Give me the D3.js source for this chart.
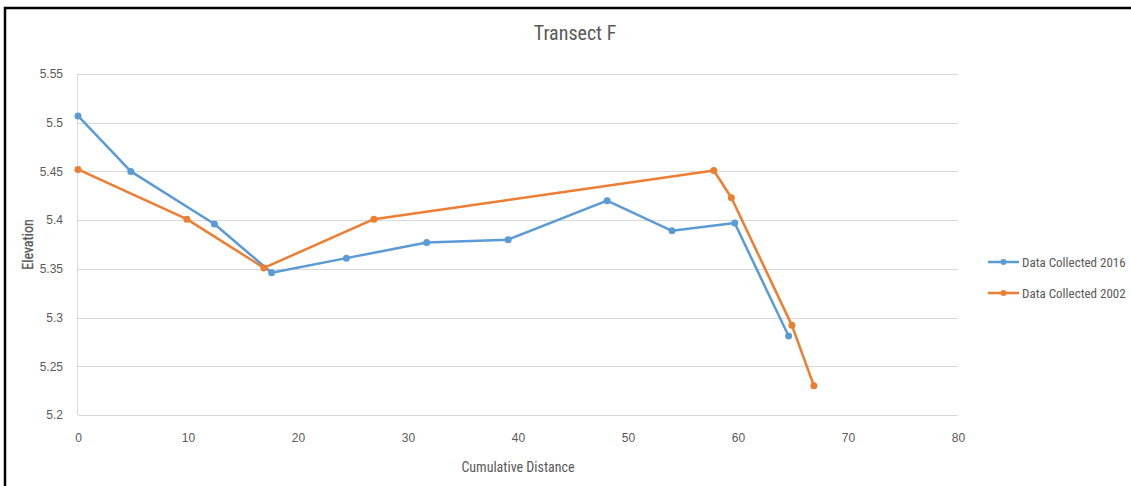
<!DOCTYPE html>
<html>
<head>
<script src="https://d3js.org/d3.v7.min.js" charset="utf-8"></script>
<style type="text/css">
  body { margin: 0; background: #fff; }
  svg { display: block; font-family: "Liberation Sans Narrow", "Roboto Condensed", "DejaVu Sans Condensed", sans-serif; }
  .tick text { fill: #595959; font-size: 12px; }
</style>
</head>
<body>

<svg width="1131" height="486"></svg>

<script>
var dist2016 = [0, 4.8, 12.4, 17.6, 24.4, 31.7, 39.1, 48.1, 54.0, 59.7, 64.6];
var elev2016 = [5.507, 5.450, 5.396, 5.346, 5.361, 5.377, 5.380, 5.420, 5.389, 5.397, 5.281];

var dist2002 = [0, 9.9, 16.9, 26.9, 57.8, 59.4, 64.9, 66.9];
var elev2002 = [5.452, 5.401, 5.351, 5.401, 5.451, 5.423, 5.292, 5.230];

var xTicks = [0, 10, 20, 30, 40, 50, 60, 70, 80];
var yTicks = [5.2, 5.25, 5.3, 5.35, 5.4, 5.45, 5.5, 5.55];

var seriesNames = ["Data Collected 2016", "Data Collected 2002"];
var colors = ["#5b9bd5", "#ed7d31"];

var svg = d3.select("svg");

// outer frame (runs off the right/bottom edge)
svg.append("rect")
   .attr("x", 5).attr("y", 8)
   .attr("width", 1200).attr("height", 600)
   .attr("fill", "none")
   .attr("stroke", "#000")
   .attr("stroke-width", 2.5);

var plot = {left: 78, right: 958, top: 74, bottom: 415};

var x = d3.scaleLinear().domain([0, 80]).range([plot.left, plot.right]);
var y = d3.scaleLinear().domain([5.2, 5.55]).range([plot.bottom, plot.top]);

// gridlines
svg.append("g")
   .selectAll("line")
   .data(yTicks)
   .enter().append("line")
   .attr("x1", plot.left).attr("x2", plot.right)
   .attr("y1", function(d) { return Math.round(y(d)) + 0.5; })
   .attr("y2", function(d) { return Math.round(y(d)) + 0.5; })
   .attr("stroke", "#d9d9d9")
   .attr("stroke-width", 1);

// left axis line
svg.append("line")
   .attr("x1", plot.left - 0.5).attr("x2", plot.left - 0.5)
   .attr("y1", plot.top).attr("y2", plot.bottom)
   .attr("stroke", "#d9d9d9");

var yAxis = svg.append("g")
   .attr("transform", "translate(" + (plot.left - 12) + ",0)")
   .call(d3.axisLeft(y).tickValues(yTicks).tickSize(0).tickFormat(function(d) { return String(+d.toFixed(2)); }));
yAxis.select(".domain").remove();

var xAxis = svg.append("g")
   .attr("transform", "translate(0," + (plot.bottom + 15) + ")")
   .call(d3.axisBottom(x).tickValues(xTicks).tickSize(0));
xAxis.select(".domain").remove();

// title and axis labels
svg.append("text")
   .attr("x", 575).attr("y", 40)
   .attr("text-anchor", "middle")
   .attr("fill", "#595959")
   .attr("font-size", "20px")
   .text("Transect F");

svg.append("text")
   .attr("x", (plot.left + plot.right) / 2).attr("y", 472)
   .attr("text-anchor", "middle")
   .attr("fill", "#595959")
   .attr("font-size", "14px")
   .text("Cumulative Distance");

svg.append("text")
   .attr("transform", "translate(33," + ((plot.top + plot.bottom) / 2) + ") rotate(-90)")
   .attr("text-anchor", "middle")
   .attr("fill", "#595959")
   .attr("font-size", "14px")
   .attr("stroke", "#595959")
   .attr("stroke-width", 0.3)
   .text("Elevation");

// series
var series = [
  {name: seriesNames[0], color: colors[0], pts: dist2016.map(function(d, i) { return [d, elev2016[i]]; })},
  {name: seriesNames[1], color: colors[1], pts: dist2002.map(function(d, i) { return [d, elev2002[i]]; })}
];

var line = d3.line()
   .x(function(d) { return x(d[0]); })
   .y(function(d) { return y(d[1]); });

series.forEach(function(s) {
  svg.append("path")
     .datum(s.pts)
     .attr("d", line)
     .attr("fill", "none")
     .attr("stroke", s.color)
     .attr("stroke-width", 2.5)
     .attr("stroke-linejoin", "round");

  svg.append("g")
     .selectAll("circle")
     .data(s.pts)
     .enter().append("circle")
     .attr("cx", function(d) { return x(d[0]); })
     .attr("cy", function(d) { return y(d[1]); })
     .attr("r", 3.5)
     .attr("fill", s.color);
});

// legend
var legend = svg.append("g")
   .selectAll("g")
   .data(series)
   .enter().append("g")
   .attr("transform", function(d, i) { return "translate(988," + (262 + i * 31) + ")"; });

legend.append("line")
   .attr("x1", 0).attr("x2", 31)
   .attr("stroke", function(d) { return d.color; })
   .attr("stroke-width", 2.5);
legend.append("circle")
   .attr("cx", 15.5).attr("r", 3)
   .attr("fill", function(d) { return d.color; });
legend.append("text")
   .attr("x", 34).attr("y", 5)
   .attr("fill", "#595959")
   .attr("font-size", "13px")
   .text(function(d) { return d.name; });
</script>
</body>
</html>
